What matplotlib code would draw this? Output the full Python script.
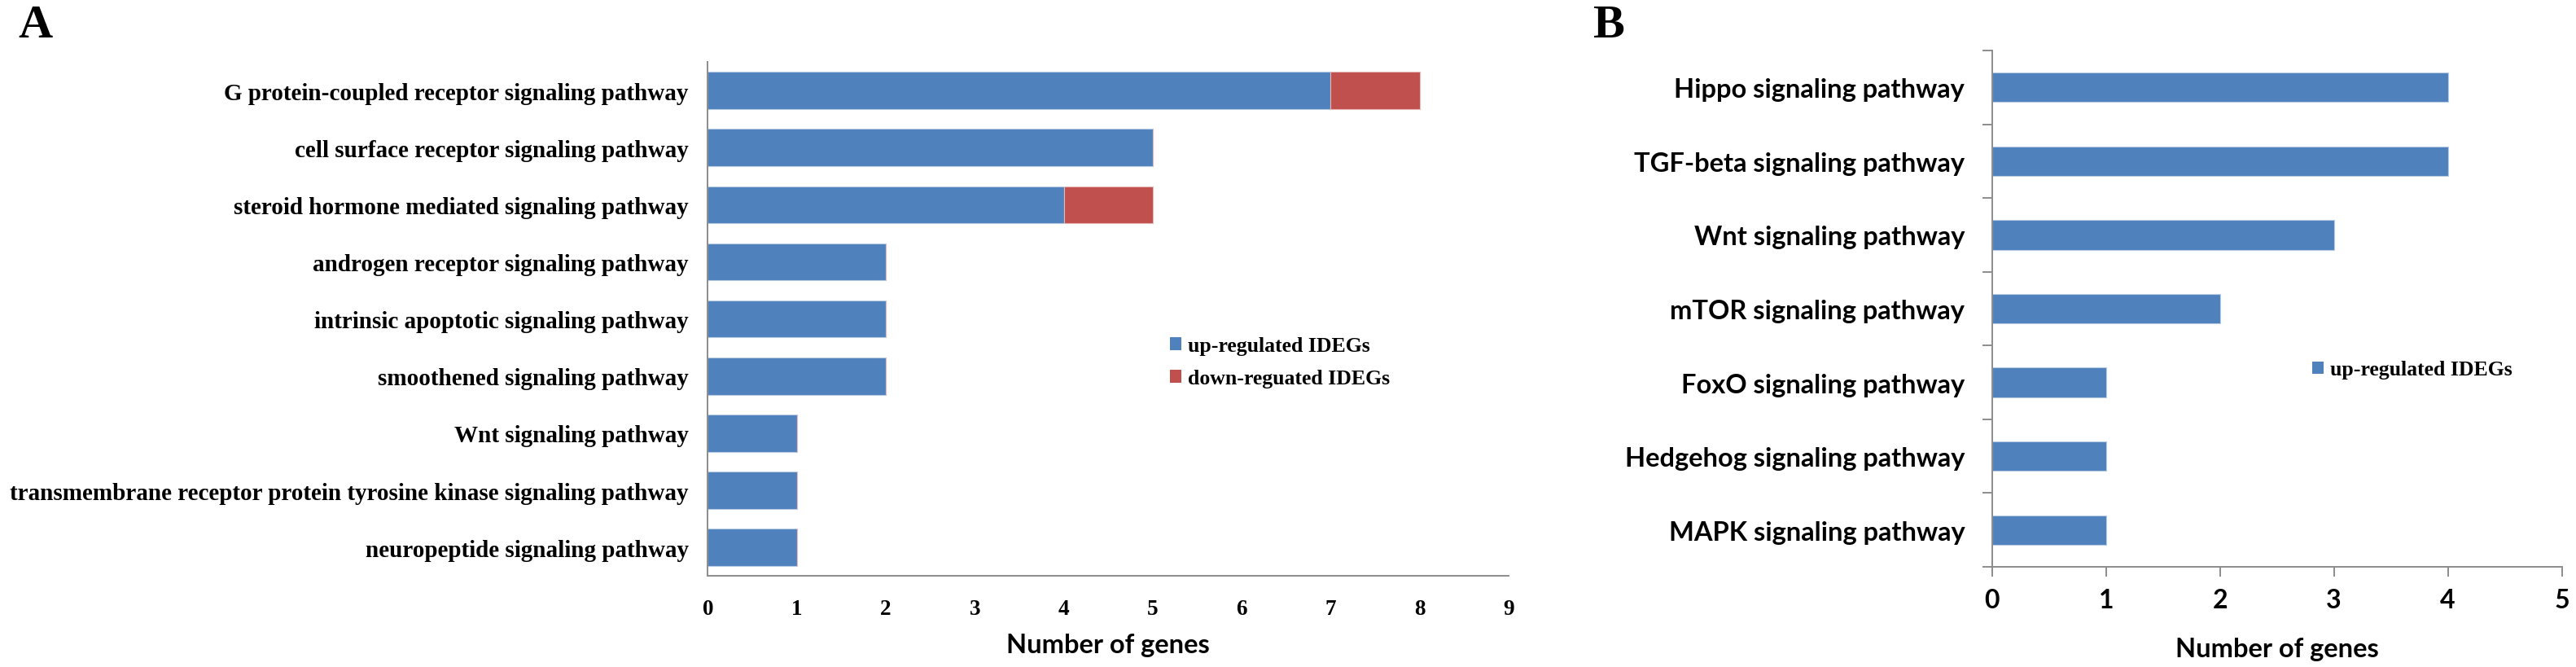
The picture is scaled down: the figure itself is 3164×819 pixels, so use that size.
import matplotlib.pyplot as plt
import numpy as np
from matplotlib.patches import Patch

# panel A data (top to bottom)
go_terms = ['G protein-coupled receptor signaling pathway',
            'cell surface receptor signaling pathway',
            'steroid hormone mediated signaling pathway',
            'androgen receptor signaling pathway',
            'intrinsic apoptotic signaling pathway',
            'smoothened signaling pathway',
            'Wnt signaling pathway',
            'transmembrane receptor protein tyrosine kinase signaling pathway',
            'neuropeptide signaling pathway']
go_up = [7, 5, 4, 2, 2, 2, 1, 1, 1]
go_down = [1, 0, 1, 0, 0, 0, 0, 0, 0]

# panel B data (top to bottom)
kegg_terms = ['Hippo signaling pathway', 'TGF-beta signaling pathway',
              'Wnt signaling pathway', 'mTOR signaling pathway',
              'FoxO signaling pathway', 'Hedgehog signaling pathway',
              'MAPK signaling pathway']
kegg_up = [4, 4, 3, 2, 1, 1, 1]

blue = '#4F81BD'
red = '#C0504D'
axis_gray = '#8C8C8C'
serif = 'Liberation Serif'
sans = 'Lato'

W, H = 3164, 820
fig = plt.figure(figsize=(W / 100, H / 100), dpi=100)

def px_axes(left, top, right, bottom):
    return fig.add_axes([left / W, 1 - bottom / H, (right - left) / W, (bottom - top) / H])

# ---------- panel A ----------
axA = px_axes(869.3, 77, 1853, 708.3)
yA = np.arange(len(go_terms))
axA.barh(yA, go_up, height=0.65, color=blue, edgecolor='#B8CCE4', linewidth=0.8)
axA.barh(yA, go_down, left=go_up, height=0.65, color=red, edgecolor='#E6B9B8', linewidth=0.8)
axA.set_ylim(len(go_terms) - 0.5, -0.5)
axA.set_xlim(0, 9)
axA.set_xticks(range(10))
axA.set_yticks(yA)
axA.set_yticklabels(go_terms, fontfamily=serif, fontweight='bold', fontsize=21)
for lab in axA.get_xticklabels():
    lab.set_fontfamily(serif)
    lab.set_fontweight('bold')
    lab.set_fontsize(19.5)
axA.tick_params(axis='y', length=0, pad=17)
axA.tick_params(axis='x', length=0, pad=20)
for s in ['top', 'right']:
    axA.spines[s].set_visible(False)
for s in ['left', 'bottom']:
    axA.spines[s].set_color(axis_gray)
    axA.spines[s].set_linewidth(1.4)
axA.set_xlabel('Number of genes', fontfamily=sans, fontweight='bold', fontsize=23.5)
axA.xaxis.set_label_coords(0.5, -0.134)
axA.xaxis.label.set_va('center')

handlesA = [Patch(facecolor=blue), Patch(facecolor=red)]
fig.legend(handlesA, ['up-regulated IDEGs', 'down-reguated IDEGs'],
           loc='center left', bbox_to_anchor=(1437 / W, 1 - 445.5 / H),
           frameon=False, borderpad=0, borderaxespad=0,
           handlelength=0.55, handleheight=0.55, handletextpad=0.3,
           labelspacing=0.65, prop={'family': serif, 'weight': 'bold', 'size': 18.5})

fig.text(22 / W, 1 - 6 / H, 'A', fontfamily=serif, fontweight='bold', fontsize=42,
         ha='left', va='top')

# ---------- panel B ----------
axB = px_axes(2446.7, 63, 3146.7, 697)
yB = np.arange(len(kegg_terms))
axB.barh(yB, kegg_up, height=0.4, color=blue, edgecolor='#B8CCE4', linewidth=0.8)
axB.set_ylim(len(kegg_terms) - 0.5, -0.5)
axB.set_xlim(0, 5)
axB.set_xticks(range(6))
axB.set_yticks(yB)
axB.set_yticklabels(kegg_terms, fontfamily=sans, fontweight='bold', fontsize=23.5)
axB.set_yticks(np.arange(len(kegg_terms) + 1) - 0.5, minor=True)
axB.tick_params(axis='y', which='major', length=0, pad=24)
axB.tick_params(axis='y', which='minor', length=8.5, width=1.4, color=axis_gray, direction='out')
axB.tick_params(axis='x', length=8.5, width=1.4, color=axis_gray, direction='out', pad=10)
for lab in axB.get_xticklabels():
    lab.set_fontfamily(sans)
    lab.set_fontweight('bold')
    lab.set_fontsize(23)
for s in ['top', 'right']:
    axB.spines[s].set_visible(False)
for s in ['left', 'bottom']:
    axB.spines[s].set_color(axis_gray)
    axB.spines[s].set_linewidth(1.4)
axB.set_xlabel('Number of genes', fontfamily=sans, fontweight='bold', fontsize=23.5)
axB.xaxis.set_label_coords(0.5, -0.158)
axB.xaxis.label.set_va('center')

fig.legend([Patch(facecolor=blue)], ['up-regulated IDEGs'],
           loc='center left', bbox_to_anchor=(2840 / W, 1 - 455 / H),
           frameon=False, borderpad=0, borderaxespad=0,
           handlelength=0.55, handleheight=0.55, handletextpad=0.3,
           prop={'family': serif, 'weight': 'bold', 'size': 18.5})

fig.text(1956 / W, 1 - 6 / H, 'B', fontfamily=serif, fontweight='bold', fontsize=42,
         ha='left', va='top')

fig.savefig('out.png', dpi=100)
